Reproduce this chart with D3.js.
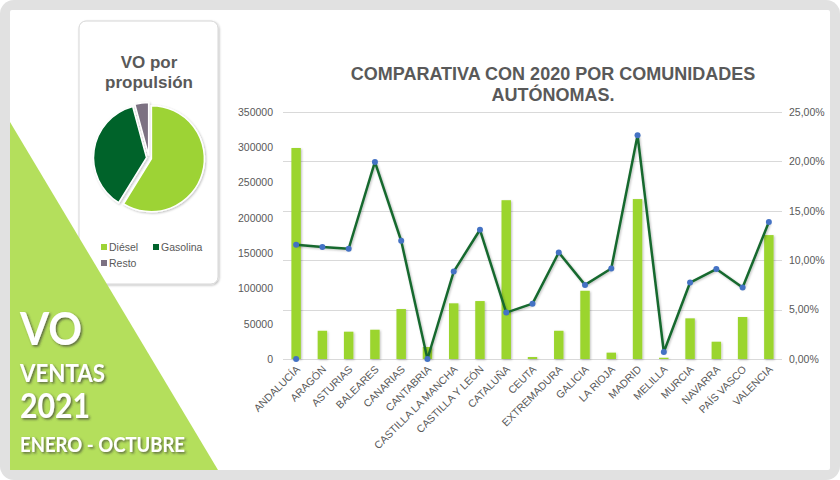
<!DOCTYPE html>
<html>
<head>
<meta charset="utf-8">
<script src="https://cdn.jsdelivr.net/npm/d3@7"></script>
<style>
    body { margin: 0; background: #fff; }
    svg text { font-family: "Liberation Sans", Arial, sans-serif; }
</style>
</head>
<body>
<div id="chart"></div>
<script>
// datos
const comunidades = ["ANDALUCÍA", "ARAGÓN", "ASTURIAS", "BALEARES", "CANARIAS", "CANTABRIA",
    "CASTILLA LA MANCHA", "CASTILLA Y LEÓN", "CATALUÑA", "CEUTA", "EXTREMADURA", "GALICIA",
    "LA RIOJA", "MADRID", "MELILLA", "MURCIA", "NAVARRA", "PAÍS VASCO", "VALENCIA"];
const ventas = [299000, 40000, 38700, 41500, 70800, 17000, 78900, 82100, 225000, 2800,
    40000, 96700, 9000, 226600, 1800, 57600, 24500, 59500, 175600];
const variacion = [0.1156, 0.1133, 0.1116, 0.1995, 0.1197, 0.0, 0.0885, 0.1308, 0.047, 0.056,
    0.1078, 0.075, 0.0916, 0.2265, 0.0071, 0.0774, 0.091, 0.0723, 0.1386];
// punto suelto en ANDALUCÍA
const puntoSuelto = [{cat: "ANDALUCÍA", valor: 0}];

const ticksVentas = [0, 50000, 100000, 150000, 200000, 250000, 300000, 350000];
const ticksPct = [0, 0.05, 0.10, 0.15, 0.20, 0.25];

const propulsion = ["Diésel", "Gasolina", "Resto"];
const cuota = [58.8, 37.0, 4.2];
const coloresPie = ["#9dd336", "#00632c", "#7c7182"];

const textoPortada = ["VO", "VENTAS", "2021", "ENERO - OCTUBRE"];

const W = 840, H = 480;
const svg = d3.select("#chart").append("svg")
    .attr("width", W)
    .attr("height", H);

const defs = svg.append("defs");
defs.append("filter").attr("id", "sombra")
    .attr("x", "-20%").attr("y", "-20%").attr("width", "140%").attr("height", "140%")
    .append("feDropShadow")
    .attr("dx", 1).attr("dy", 1).attr("stdDeviation", 1)
    .attr("flood-color", "#000").attr("flood-opacity", 0.25);
defs.append("filter").attr("id", "sombraTexto")
    .attr("x", "-10%").attr("y", "-10%").attr("width", "130%").attr("height", "130%")
    .append("feDropShadow")
    .attr("dx", 1.5).attr("dy", 1.5).attr("stdDeviation", 0.8)
    .attr("flood-color", "#333").attr("flood-opacity", 0.7);

// marco gris
svg.append("rect")
    .attr("width", W).attr("height", H)
    .attr("rx", 14)
    .attr("fill", "#e1e1e1");
svg.append("rect")
    .attr("x", 10).attr("y", 10)
    .attr("width", 820).attr("height", 460)
    .attr("rx", 2)
    .attr("fill", "#fff");


class PieVis {

    constructor(svg) {
        this.svg = svg;
        this.initVis();
    }

    initVis() {
        let vis = this;

        vis.g = vis.svg.append("g");

        vis.g.append("rect")
            .attr("x", 79).attr("y", 21)
            .attr("width", 139).attr("height", 263)
            .attr("rx", 7)
            .attr("fill", "#fff")
            .attr("stroke", "#d6d6d6")
            .attr("filter", "url(#sombra)");

        vis.g.selectAll(".pie-title")
            .data(["VO por", "propulsión"])
            .enter().append("text")
            .attr("class", "pie-title")
            .attr("x", 149)
            .attr("y", (d, i) => 68 + i * 20)
            .attr("text-anchor", "middle")
            .style("font-weight", "bold")
            .style("font-size", "17px")
            .style("fill", "#595959")
            .text(d => d);

        vis.cx = 149;
        vis.cy = 158;
        vis.radius = 53;

        vis.updateVis();
    }

    updateVis() {
        let vis = this;

        let pie = d3.pie().sort(null).value(d => d.v);
        let arc = d3.arc().innerRadius(0).outerRadius(vis.radius);
        let datos = propulsion.map((p, i) => ({p: p, v: cuota[i], c: coloresPie[i]}));

        vis.g.append("g")
            .attr("transform", `translate(${vis.cx},${vis.cy})`)
            .attr("filter", "url(#sombra)")
            .selectAll("path")
            .data(pie(datos))
            .enter().append("path")
            .attr("d", arc)
            .attr("fill", d => d.data.c)
            .attr("stroke", "#fff")
            .attr("stroke-width", 1.5)
            .attr("transform", d => {
                let a = (d.startAngle + d.endAngle) / 2;
                return `translate(${Math.sin(a) * 2.5},${-Math.cos(a) * 2.5})`;
            });

        // leyenda
        let posLeyenda = [[101, 247], [153, 247], [101, 263]];
        let ley = vis.g.selectAll(".legend")
            .data(datos)
            .enter().append("g")
            .attr("class", "legend")
            .attr("transform", (d, i) => `translate(${posLeyenda[i][0]},${posLeyenda[i][1]})`);
        ley.append("rect")
            .attr("x", 0).attr("y", -3)
            .attr("width", 6).attr("height", 6)
            .attr("fill", d => d.c);
        ley.append("text")
            .attr("x", 8).attr("y", 4)
            .style("font-size", "10.5px")
            .style("fill", "#595959")
            .text(d => d.p);
    }
}


class ComparativaVis {

    constructor(svg) {
        this.svg = svg;
        this.initVis();
    }

    initVis() {
        let vis = this;

        vis.left = 283;
        vis.right = 782;
        vis.top = 112;
        vis.bottom = 359;

        vis.g = vis.svg.append("g");

        vis.g.selectAll(".chart-title")
            .data(["COMPARATIVA CON 2020 POR COMUNIDADES", "AUTÓNOMAS."])
            .enter().append("text")
            .attr("class", "chart-title")
            .attr("x", 553)
            .attr("y", (d, i) => 80 + i * 21)
            .attr("text-anchor", "middle")
            .style("font-weight", "bold")
            .style("font-size", "18px")
            .style("fill", "#595959")
            .text(d => d);

        vis.x = d3.scaleBand()
            .domain(comunidades)
            .range([vis.left, vis.right])
            .paddingInner(0.64)
            .paddingOuter(0.32);
        vis.xPunto = d3.scalePoint()
            .domain(comunidades)
            .range([vis.left, vis.right])
            .padding(0.5);

        vis.yVentas = d3.scaleLinear().domain([0, 350000]).range([vis.bottom, vis.top]);
        vis.yPct = d3.scaleLinear().domain([0, 0.25]).range([vis.bottom, vis.top]);

        let es = d3.formatLocale({decimal: ",", thousands: ".", grouping: [3], currency: ["", " €"]});

        // lineas de cuadricula (van con el eje secundario)
        vis.g.append("g")
            .attr("class", "grid")
            .selectAll("line")
            .data(ticksPct)
            .enter().append("line")
            .attr("x1", vis.left).attr("x2", vis.right)
            .attr("y1", d => Math.round(vis.yPct(d)) + 0.5)
            .attr("y2", d => Math.round(vis.yPct(d)) + 0.5)
            .attr("stroke", "#d9d9d9");

        vis.yAxisL = d3.axisLeft(vis.yVentas).tickValues(ticksVentas).tickFormat(d3.format("d"))
            .tickSize(0).tickPadding(10);
        vis.yAxisR = d3.axisRight(vis.yPct).tickValues(ticksPct).tickFormat(es.format(".2%"))
            .tickSize(0).tickPadding(7);
        vis.xAxis = d3.axisBottom(vis.xPunto).tickSize(0);

        vis.gL = vis.g.append("g").attr("transform", `translate(${vis.left},0)`).call(vis.yAxisL);
        vis.gR = vis.g.append("g").attr("transform", `translate(${vis.right},0)`).call(vis.yAxisR);
        vis.gX = vis.g.append("g").attr("transform", `translate(0,${vis.bottom})`).call(vis.xAxis);

        [vis.gL, vis.gR, vis.gX].forEach(a => {
            a.select(".domain").remove();
            a.selectAll("text")
                .style("font-family", "'Liberation Sans', Arial, sans-serif")
                .style("font-size", "10.5px")
                .style("fill", "#595959");
        });

        vis.gX.selectAll("text")
            .attr("text-anchor", "end")
            .attr("dy", null)
            .attr("y", 0)
            .attr("transform", "translate(4,11) rotate(-45)");

        vis.updateVis();
    }

    updateVis() {
        let vis = this;

        vis.g.append("g")
            .attr("filter", "url(#sombra)")
            .selectAll(".bar")
            .data(comunidades)
            .enter().append("rect")
            .attr("class", "bar")
            .attr("x", d => vis.x(d))
            .attr("width", vis.x.bandwidth())
            .attr("y", (d, i) => vis.yVentas(ventas[i]))
            .attr("height", (d, i) => vis.bottom - vis.yVentas(ventas[i]))
            .attr("fill", "#9bd52e");

        let linea = d3.line()
            .x(d => vis.xPunto(d))
            .y((d, i) => vis.yPct(variacion[i]));

        vis.g.append("path")
            .datum(comunidades)
            .attr("d", linea)
            .attr("fill", "none")
            .attr("stroke", "#17692f")
            .attr("stroke-width", 2.5)
            .attr("stroke-linejoin", "round")
            .attr("filter", "url(#sombra)");

        vis.g.selectAll(".punto")
            .data(comunidades)
            .enter().append("circle")
            .attr("class", "punto")
            .attr("cx", d => vis.xPunto(d))
            .attr("cy", (d, i) => vis.yPct(variacion[i]))
            .attr("r", 3)
            .attr("fill", "#4472c4");

        vis.g.selectAll(".suelto")
            .data(puntoSuelto)
            .enter().append("circle")
            .attr("class", "suelto")
            .attr("cx", d => vis.xPunto(d.cat))
            .attr("cy", d => vis.yPct(d.valor))
            .attr("r", 3)
            .attr("fill", "#4472c4");
    }
}

let pieVis = new PieVis(svg);
let comparativaVis = new ComparativaVis(svg);

// triangulo verde con el texto de portada
svg.append("polygon")
    .attr("points", "10,122 10,470 218,470")
    .attr("fill", "#b4df5c");

let portada = [
    {t: textoPortada[0], y: 345, size: 45, w: 62},
    {t: textoPortada[1], y: 382, size: 25, w: 85},
    {t: textoPortada[2], y: 418, size: 34, w: 70},
    {t: textoPortada[3], y: 452, size: 21, w: 165}
];
svg.selectAll(".portada")
    .data(portada)
    .enter().append("text")
    .attr("class", "portada")
    .attr("x", 20)
    .attr("y", d => d.y)
    .attr("textLength", d => d.w)
    .attr("lengthAdjust", "spacingAndGlyphs")
    .style("font-family", "Lato, 'Open Sans', sans-serif")
    .style("font-weight", "bold")
    .style("font-size", d => d.size + "px")
    .style("fill", "#fff")
    .attr("filter", "url(#sombraTexto)")
    .text(d => d.t);
</script>
</body>
</html>
